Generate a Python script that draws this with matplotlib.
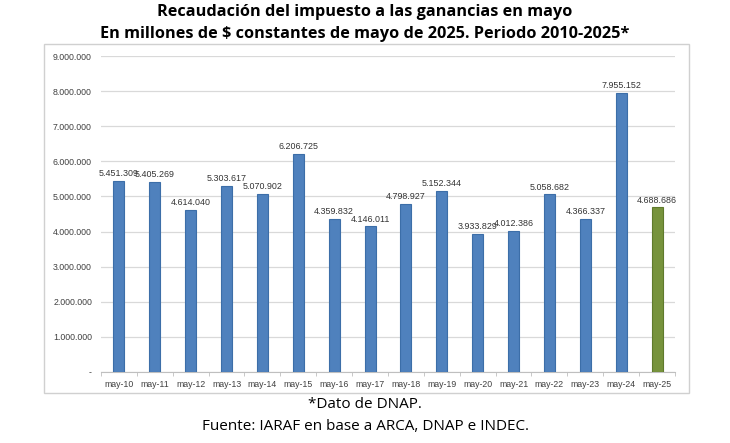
import matplotlib.pyplot as plt
from matplotlib.patches import Rectangle
from matplotlib.ticker import FixedLocator

# datos
years = ["may-10", "may-11", "may-12", "may-13", "may-14", "may-15", "may-16", "may-17",
         "may-18", "may-19", "may-20", "may-21", "may-22", "may-23", "may-24", "may-25"]
recaudacion = [5451309, 5405269, 4614040, 5303617, 5070902, 6206725, 4359832, 4146011,
               4798927, 5152344, 3933829, 4012386, 5058682, 4366337, 7955152, 4688686]
yticks = [0, 1000000, 2000000, 3000000, 4000000, 5000000, 6000000, 7000000, 8000000, 9000000]


def fmt(v):
    return f"{v:,}".replace(",", ".")


fig = plt.figure(figsize=(7.3, 4.43), dpi=100)

# marco del grafico
fig.patches.append(Rectangle((44 / 730, 1 - 393 / 443), (689 - 44) / 730, (393 - 44) / 443,
                             transform=fig.transFigure, fill=False, edgecolor="#d0d0d0", lw=1))

ax = fig.add_axes([101 / 730, 1 - 372 / 443, 574 / 730, 316 / 443])
x = range(len(years))
colores = ["#4f81bd"] * (len(years) - 1) + ["#77933c"]
bordes = ["#3c6ea8"] * (len(years) - 1) + ["#5f7a2c"]
ax.bar(x, recaudacion, width=0.31, color=colores, edgecolor=bordes, linewidth=0.8, zorder=3)

for i, v in enumerate(recaudacion):
    ax.text(i, v + 80000, fmt(v), ha="center", va="bottom", fontsize=6.4,
            family="Liberation Sans", color="#333333")

ax.set_ylim(0, 9000000)
ax.set_xlim(-0.5, len(years) - 0.5)
ax.set_yticks(yticks)
ax.set_yticklabels(["-"] + [fmt(t) for t in yticks[1:]])
ax.set_xticks(list(x))
ax.set_xticklabels(years)
ax.xaxis.set_minor_locator(FixedLocator([i - 0.5 for i in range(len(years) + 1)]))
ax.tick_params(axis="x", which="major", length=0, pad=6)
ax.tick_params(axis="x", which="minor", length=3, color="#bfbfbf")
ax.tick_params(axis="y", length=0, pad=6.5)
for lab in ax.get_xticklabels() + ax.get_yticklabels():
    lab.set_fontsize(6.3)
    lab.set_family("Liberation Sans")
    lab.set_color("#404040")

ax.grid(axis="y", color="#d9d9d9", lw=0.9, zorder=0)
for s in ["top", "right", "left"]:
    ax.spines[s].set_visible(False)
ax.spines["bottom"].set_color("#bfbfbf")

fig.text(0.5, 1 - 12 / 443, "Recaudación del impuesto a las ganancias en mayo", ha="center", va="center",
         fontsize=11.7, fontweight="bold", family="Open Sans")
fig.text(0.5, 1 - 34 / 443, "En millones de $ constantes de mayo de 2025. Periodo 2010-2025*", ha="center",
         va="center", fontsize=11.7, fontweight="bold", family="Open Sans")
fig.text(0.5, 1 - 405 / 443, "*Dato de DNAP.", ha="center", va="center", fontsize=11, family="Open Sans")
fig.text(0.5, 1 - 426 / 443, "Fuente: IARAF en base a ARCA, DNAP e INDEC.", ha="center", va="center",
         fontsize=11, family="Open Sans")

fig.savefig("out.png", dpi=100)
